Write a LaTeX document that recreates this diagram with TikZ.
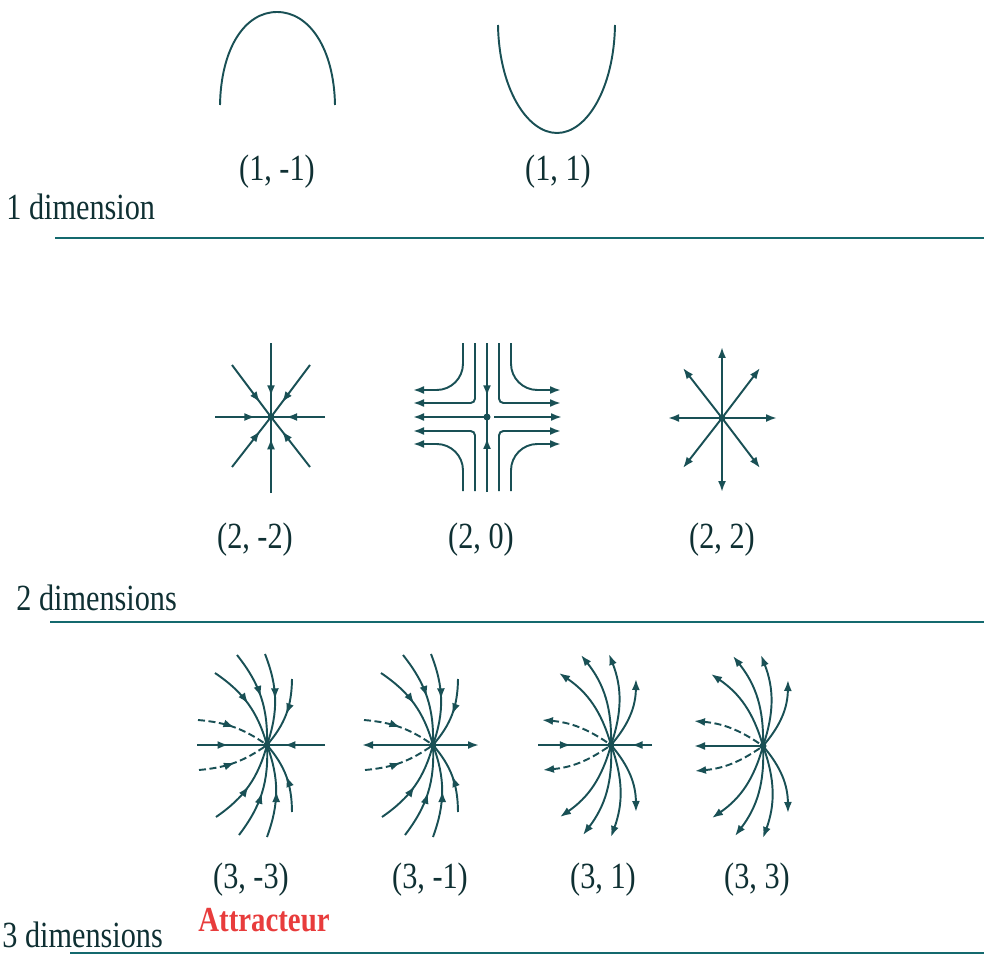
\documentclass[tikz,border=0pt]{standalone}
\usepackage{fontspec}
\setmainfont[FakeStretch=0.82]{Liberation Serif}
\usetikzlibrary{arrows.meta, decorations.markings}
\definecolor{cInk}{RGB}{25,80,85}
\definecolor{cRule}{RGB}{20,105,110}
\definecolor{cRed}{RGB}{232,60,60}
\tikzset{
    orbit/.style    ={draw=cInk, line width=1.1pt},
    flowin/.style   ={orbit, postaction={decorate}, decoration={markings, mark=at position #1 with {\arrow{Latex[length=2.2mm,width=1.6mm]}}}},
    flowin/.default =0.5,
    flowout/.style  ={orbit, {Latex[length=2.2mm,width=1.6mm]}-},
    backside/.style ={dash pattern=on 4pt off 2pt},
    pairlabel/.style={font=\fontsize{21pt}{24pt}\selectfont, text=cInk!60!black, inner sep=0pt},
    dimlabel/.style ={pairlabel, anchor=west},
    rule/.style     ={draw=cRule, line width=1.2pt},
}
% fan of trajectories of a 3d node, #1 = flowin or flowout
\newcommand{\drawfan}[1]{%
    \foreach \p in {(-52,-72),(-30,-90),(-2,-91),(25,-66)} \draw[#1] \p to[bend left=20] (0,0);
    \foreach \p in {(-51,72),(-28,90),(0,92),(25,67)} \draw[#1] \p to[bend right=20] (0,0);
    \draw[#1, backside] (-69,-25) to[bend left=15] (0,0);
    \draw[#1, backside] (-68,25) to[bend right=15] (0,0);
    \fill[cInk] (0,0) circle (3.5);
}

\begin{document}
\begin{tikzpicture}[x=0.02cm, y=-0.02cm]
    \useasboundingbox (0,0) rectangle (984,956);

    % 1 dimension
    \draw[orbit] (220,105) .. controls (221,48) and (245,12) .. (277,12) .. controls (309,12) and (334,48) .. (335,105);
    \draw[orbit] (498,25) .. controls (499,88) and (527,133) .. (557,133) .. controls (587,133) and (614,88) .. (615,25);
    \node[pairlabel] (p1m) at (277,172) {(1, -1)};
    \node[pairlabel] (p1p) at (558,172) {(1, 1)};
    \node[dimlabel] (dim1) at (6,207) {1 dimension};
    \draw[rule] (55,238) -- (984,238);

    % 2 dimensions
    \begin{scope}[shift={(271,417)}]
        \foreach \p in {(0,-74),(0,76),(-56,0),(54,0),(-39,-52),(39,-52),(-39,50),(39,50)}
            \draw[flowin=0.72] \p -- (0,0);
        \fill[cInk] (0,0) circle (3.5);
    \end{scope}
    \begin{scope}[shift={(487,417)}]
        \draw[flowin=0.72] (0,-74) -- (0,0);
        \draw[flowin=0.72] (0,75) -- (0,0);
        \draw[flowout] (-74,0) -- (0,0);
        \draw[flowout] (75,0) -- (7,0);
        \foreach \sx in {-1,1} \foreach \sy in {-1,1} {
            \draw[flowout, rounded corners=2.5pt] (\sx*74,\sy*14) -- (\sx*12,\sy*14) -- (\sx*12,\sy*74);
            \draw[flowout, rounded corners=15pt] (\sx*74,\sy*27) -- (\sx*24,\sy*27) -- (\sx*24,\sy*74);
        }
        \fill[cInk] (0,0) circle (3.5);
    \end{scope}
    \begin{scope}[shift={(722,418)}]
        \foreach \p in {(0,-71),(0,74),(-54,0),(55,0),(-39,-50),(38,-50),(-39,50),(38,50)}
            \draw[flowout] \p -- (0,0);
        \fill[cInk] (0,0) circle (3.5);
    \end{scope}
    \node[pairlabel] (p2m) at (255,540) {(2, -2)};
    \node[pairlabel] (p2z) at (481,540) {(2, 0)};
    \node[pairlabel] (p2p) at (722,540) {(2, 2)};
    \node[dimlabel] (dim2) at (16,598) {2 dimensions};
    \draw[rule] (50,622) -- (984,622);

    % 3 dimensions
    \begin{scope}[shift={(267,745)}]
        \drawfan{flowin}
        \draw[flowin=0.45] (-70,0) -- (0,0);
        \draw[flowin=0.7] (58,0) -- (0,0);
    \end{scope}
    \begin{scope}[shift={(433,745)}]
        \drawfan{flowin}
        \draw[flowout] (-71,0) -- (0,0);
        \draw[flowout] (46,0) -- (0,0);
    \end{scope}
    \begin{scope}[shift={(611,745)}]
        \drawfan{flowout}
        \draw[flowin=0.45] (-73,0) -- (0,0);
        \draw[flowin=0.5] (41,0) -- (0,0);
    \end{scope}
    \begin{scope}[shift={(763,746)}]
        \drawfan{flowout}
        \draw[flowout] (-69,0) -- (0,0);
    \end{scope}
    \node[pairlabel] (p3a) at (251,880) {(3, -3)};
    \node[pairlabel] (p3b) at (430,880) {(3, -1)};
    \node[pairlabel] (p3c) at (603,880) {(3, 1)};
    \node[pairlabel] (p3d) at (757,880) {(3, 3)};
    \node[pairlabel, text=cRed, font=\fontsize{20pt}{23pt}\selectfont\bfseries] (attr) at (264,920) {Attracteur};
    \node[dimlabel] (dim3) at (2,935) {3 dimensions};
    \draw[rule] (70,953) -- (984,953);
\end{tikzpicture}
\end{document}
